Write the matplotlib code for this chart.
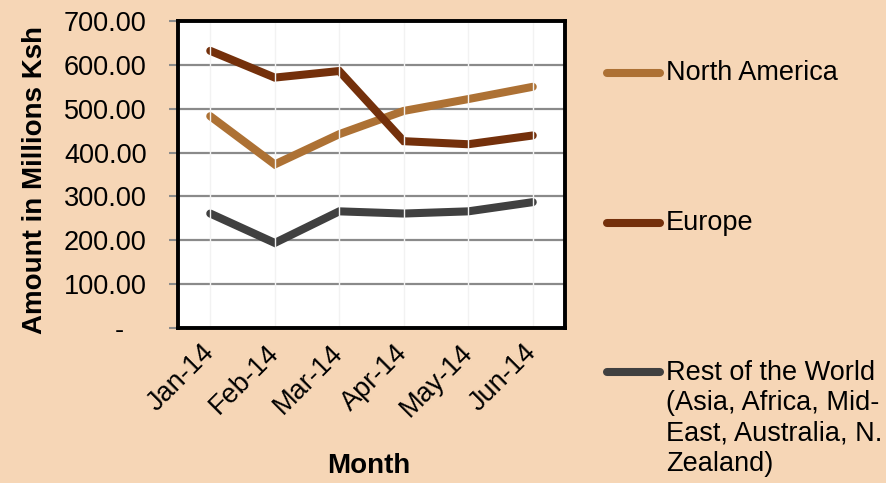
import matplotlib
matplotlib.use("Agg")
import matplotlib.pyplot as plt
from matplotlib.lines import Line2D

months = ["Jan-14", "Feb-14", "Mar-14", "Apr-14", "May-14", "Jun-14"]
north_america = [483, 373, 442, 495, 522, 550]
europe = [632, 571, 586, 426, 419, 439]
rest_of_world = [261, 194, 266, 261, 266, 287]
series_names = [
    "North America",
    "Europe",
    "Rest of the World\n(Asia, Africa, Mid-\nEast, Australia, N.\nZealand)",
]
series_colors = ["#AD7134", "#74300B", "#404040"]
y_ticks = [0, 100, 200, 300, 400, 500, 600, 700]
y_tick_labels = ["-   ", "100.00", "200.00", "300.00", "400.00", "500.00", "600.00", "700.00"]

plt.rcParams["font.family"] = ["Liberation Sans", "DejaVu Sans"]
BG = "#F6D6B6"

fig = plt.figure(figsize=(8.86, 4.83), dpi=100, facecolor=BG)
ax = fig.add_axes([0.2009, 0.3209, 0.4368, 0.6356])
ax.set_facecolor("white")

x = list(range(len(months)))
values = [north_america, europe, rest_of_world]
lines = []
for vals, name, col in zip(values, series_names, series_colors):
    ln, = ax.plot(x, vals, color=col, lw=5.8, solid_capstyle="round",
                  solid_joinstyle="miter", zorder=3)
    lines.append(ln)

ax.set_xlim(-0.5, len(months) - 0.5)
ax.set_ylim(0, 700)
ax.set_yticks(y_ticks)
ax.set_yticklabels(y_tick_labels, fontsize=19.5)
ax.set_xticks(x)
ax.set_xticklabels(months, fontsize=19.5, rotation=45, ha="right",
                   rotation_mode="anchor", va="center")

# horizontal gridlines behind the series, pale category lines over them
for yv in y_ticks[1:]:
    ax.axhline(yv, color="#8A8A8A", lw=1.6, zorder=1)
for xv in x:
    ax.axvline(xv, color="#F2F2F2", lw=1.0, zorder=4)

for s in ax.spines.values():
    s.set_color("black")
    s.set_linewidth(2.8)
    s.set_zorder(5)

ax.tick_params(axis="y", direction="out", length=6.5, width=1.5, color="#8A8A8A",
               pad=16)
ax.tick_params(axis="x", length=0, pad=15)

fig.text(0.039, 0.628, "Amount in Millions Ksh", rotation=90, fontsize=20,
         fontweight="bold", ha="center", va="center")
fig.text(0.416, 0.008, "Month", fontsize=20, fontweight="bold", ha="center",
         va="bottom")

# legend keys and labels
legend_y = [73, 223, 372]
H = 483.0
W = 886.0
for ln, name, yp in zip(lines, series_names, legend_y):
    fy = 1 - yp / H
    fig.add_artist(Line2D([607 / W, 660 / W], [fy, fy], color=ln.get_color(),
                          lw=5.8, solid_capstyle="round",
                          transform=fig.transFigure))
    if "\n" in name:
        fig.text(666 / W, fy + 12 / H, name, fontsize=19.5, ha="left",
                 va="top", linespacing=1.22)
    else:
        fig.text(666 / W, fy, name, fontsize=19.5, ha="left", va="center")

fig.savefig("out.png", dpi=100, facecolor=BG)
